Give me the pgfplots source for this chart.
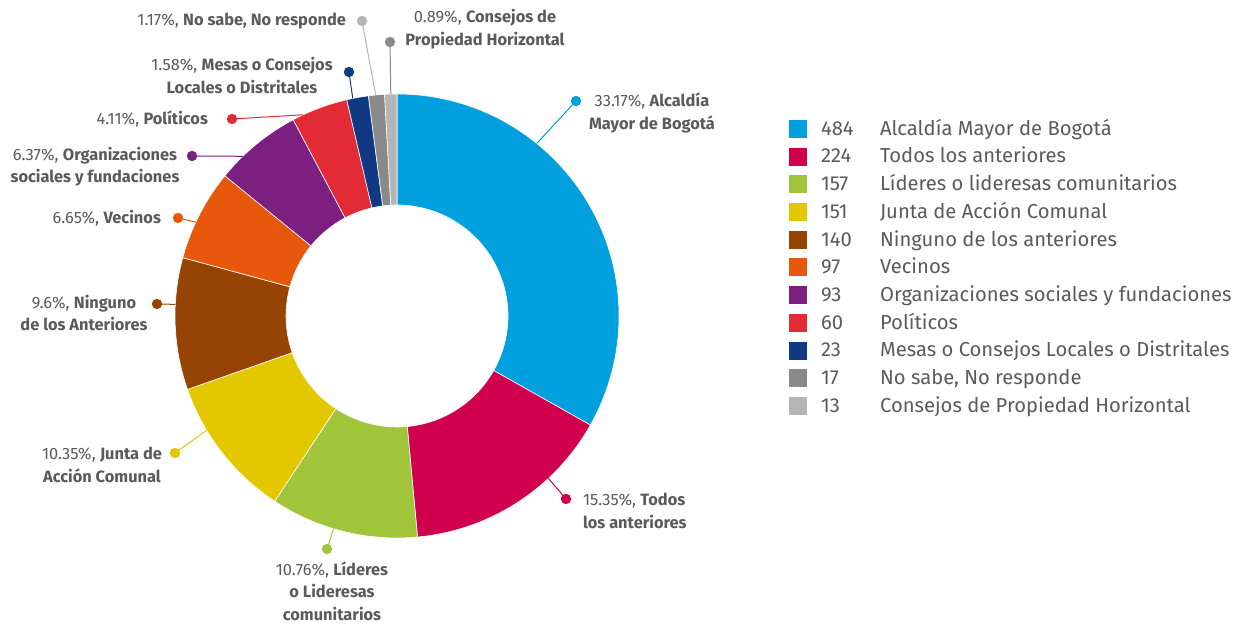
\documentclass[border=0pt]{standalone}
\usepackage{fontspec}
\setmainfont{Fira Sans}
\IfFontExistsTF{FiraSans-Light.otf}
  {\newfontfamily\lightfont{FiraSans-Light.otf}}
  {\newfontfamily\lightfont{Fira Sans}}
\usepackage{pgfplots}
\usepackage{pgfplotstable}
\pgfplotsset{compat=1.18}
\definecolor{c0}{HTML}{00A0DF}
\definecolor{c1}{HTML}{D0004F}
\definecolor{c2}{HTML}{A0C43A}
\definecolor{c3}{HTML}{E3C800}
\definecolor{c4}{HTML}{964405}
\definecolor{c5}{HTML}{E8580C}
\definecolor{c6}{HTML}{7B1F80}
\definecolor{c7}{HTML}{E32B35}
\definecolor{c8}{HTML}{0F3A83}
\definecolor{c9}{HTML}{8A8A8A}
\definecolor{c10}{HTML}{B5B5B5}
\definecolor{txt}{HTML}{5A5A5A}

\pgfplotstableread[col sep=semicolon]{
n;name
484;Alcaldía Mayor de Bogotá
224;Todos los anteriores
157;Líderes o lideresas comunitarios
151;Junta de Acción Comunal
140;Ninguno de los anteriores
97;Vecinos
93;Organizaciones sociales y fundaciones
60;Políticos
23;Mesas o Consejos Locales o Distritales
17;No sabe, No responde
13;Consejos de Propiedad Horizontal
}\datatable

% total and slice angles (clockwise from 12 o'clock)
\def\total{0}
\pgfplotsforeachungrouped \i in {0,...,10}{%
  \pgfplotstablegetelem{\i}{n}\of\datatable
  \pgfmathsetmacro\total{\total+\pgfplotsretval}%
}
\def\cum{0}
\pgfplotsforeachungrouped \i in {0,...,10}{%
  \pgfplotstablegetelem{\i}{n}\of\datatable
  \let\v\pgfplotsretval
  \pgfmathsetmacro\sa{90-\cum/\total*360}%
  \pgfmathsetmacro\cum{\cum+\v}%
  \pgfmathsetmacro\ea{90-\cum/\total*360}%
  \expandafter\let\csname sa\i\endcsname\sa
  \expandafter\let\csname ea\i\endcsname\ea
  \expandafter\let\csname nv\i\endcsname\v
  \pgfplotstablegetelem{\i}{name}\of\datatable
  \expandafter\let\csname nm\i\endcsname\pgfplotsretval
}

\tikzset{
  lab/.style={font=\fontsize{8.2}{11.2}\selectfont, text=txt, align=center},
  leg/.style={font=\lightfont\fontsize{10.1}{12}\selectfont, text=txt, anchor=mid west},
  lead/.style={line width=0.5pt},
}
\newcommand{\pc}[1]{{\lightfont #1}}

\begin{document}
\begin{tikzpicture}
\begin{axis}[scale only axis, width=620pt, height=311pt,
  xmin=0, xmax=1240, ymin=0, ymax=622, hide axis, clip=false]
\path (axis cs:0,0) rectangle (axis cs:1240,622);
% donut
\pgfplotsinvokeforeach{0,...,10}{
  \edef\tmp{\noexpand\fill[c#1, draw=white, line width=0.3pt]
    (axis cs:397,306) ++(\csname sa#1\endcsname:111pt)
    arc[start angle=\csname sa#1\endcsname, end angle=\csname ea#1\endcsname, radius=111pt]
    -- ++(\csname ea#1\endcsname:-55.5pt)
    arc[start angle=\csname ea#1\endcsname, end angle=\csname sa#1\endcsname, radius=55.5pt]
    -- cycle;}\tmp
  % legend
  \edef\tmp{\noexpand\fill[c#1] (axis cs:789,{484-27.7*#1}) rectangle (axis cs:807,{502-27.7*#1});
    \noexpand\node[leg] at (axis cs:814,{492-27.7*#1}) {\csname nv#1\endcsname};
    \noexpand\node[leg] at (axis cs:873,{492-27.7*#1}) {\csname nm#1\endcsname};}\tmp
}
% callouts
\draw[c0,lead] (axis cs:397,306) ++(51:111pt) -- (axis cs:576,521);
\fill[c0] (axis cs:576,521) circle[radius=2.6pt];
\node[lab] at (axis cs:652,509) {\pc{33.17\%,} \textbf{Alcaldía}\\\textbf{Mayor de Bogotá}};

\draw[c1,lead] (axis cs:397,306) ++(-47:111pt) -- (axis cs:566,123);
\fill[c1] (axis cs:566,123) circle[radius=2.6pt];
\node[lab, anchor=west, align=left] at (axis cs:576,111) {\pc{15.35\%,} \textbf{Todos}\\\textbf{los anteriores}};

\draw[c2,lead] (axis cs:397,306) ++(-106.6:111pt) -- (axis cs:327,73);
\fill[c2] (axis cs:327,73) circle[radius=2.6pt];
\node[lab] at (axis cs:332,31) {\pc{10.76\%,} \textbf{Líderes}\\\textbf{o Lideresas}\\\textbf{comunitarios}};

\draw[c3,lead] (axis cs:397,306) ++(211:111pt) -- (axis cs:175,169);
\fill[c3] (axis cs:175,169) circle[radius=2.6pt];
\node[lab] at (axis cs:102,157) {\pc{10.35\%,} \textbf{Junta de}\\\textbf{Acción Comunal}};

\draw[c4,lead] (axis cs:397,306) ++(177:111pt) -- (axis cs:157,318);
\fill[c4] (axis cs:157,318) circle[radius=2.6pt];
\node[lab] at (axis cs:84,309) {\pc{9.6\%,} \textbf{Ninguno}\\\textbf{de los Anteriores}};

\draw[c5,lead] (axis cs:397,306) ++(155:111pt) -- (axis cs:178,404);
\fill[c5] (axis cs:178,404) circle[radius=2.6pt];
\node[lab, anchor=east] at (axis cs:168,404) {\pc{6.65\%,} \textbf{Vecinos}};

\draw[c6,lead] (axis cs:397,306) ++(134:111pt) -- (axis cs:192,466);
\fill[c6] (axis cs:192,466) circle[radius=2.6pt];
\node[lab] at (axis cs:95,455.5) {\pc{6.37\%,} \textbf{Organizaciones}\\\textbf{sociales y fundaciones}};

\draw[c7,lead] (axis cs:397,306) ++(115:111pt) -- (axis cs:232,503);
\fill[c7] (axis cs:232,503) circle[radius=2.6pt];
\node[lab, anchor=east] at (axis cs:215,503) {\pc{4.11\%,} \textbf{Políticos}};

\draw[c8,lead] (axis cs:397,306) ++(101.5:111pt) -- (axis cs:349,550);
\fill[c8] (axis cs:349,550) circle[radius=2.6pt];
\node[lab] at (axis cs:242,546.5) {\pc{1.58\%,} \textbf{Mesas o Consejos}\\\textbf{Locales o Distritales}};

\draw[c10,lead] (axis cs:397,306) ++(95.5:111pt) -- (axis cs:362,601);
\fill[c10] (axis cs:362,601) circle[radius=2.6pt];
\node[lab, anchor=east] at (axis cs:353,601) {\pc{1.17\%,} \textbf{No sabe, No responde}};

\draw[c9,lead] (axis cs:397,306) ++(91.6:111pt) -- (axis cs:390,580);
\fill[c9] (axis cs:390,580) circle[radius=2.6pt];
\node[lab] at (axis cs:485,593) {\pc{0.89\%,} \textbf{Consejos de}\\\textbf{Propiedad Horizontal}};
\end{axis}
\end{tikzpicture}
\end{document}
